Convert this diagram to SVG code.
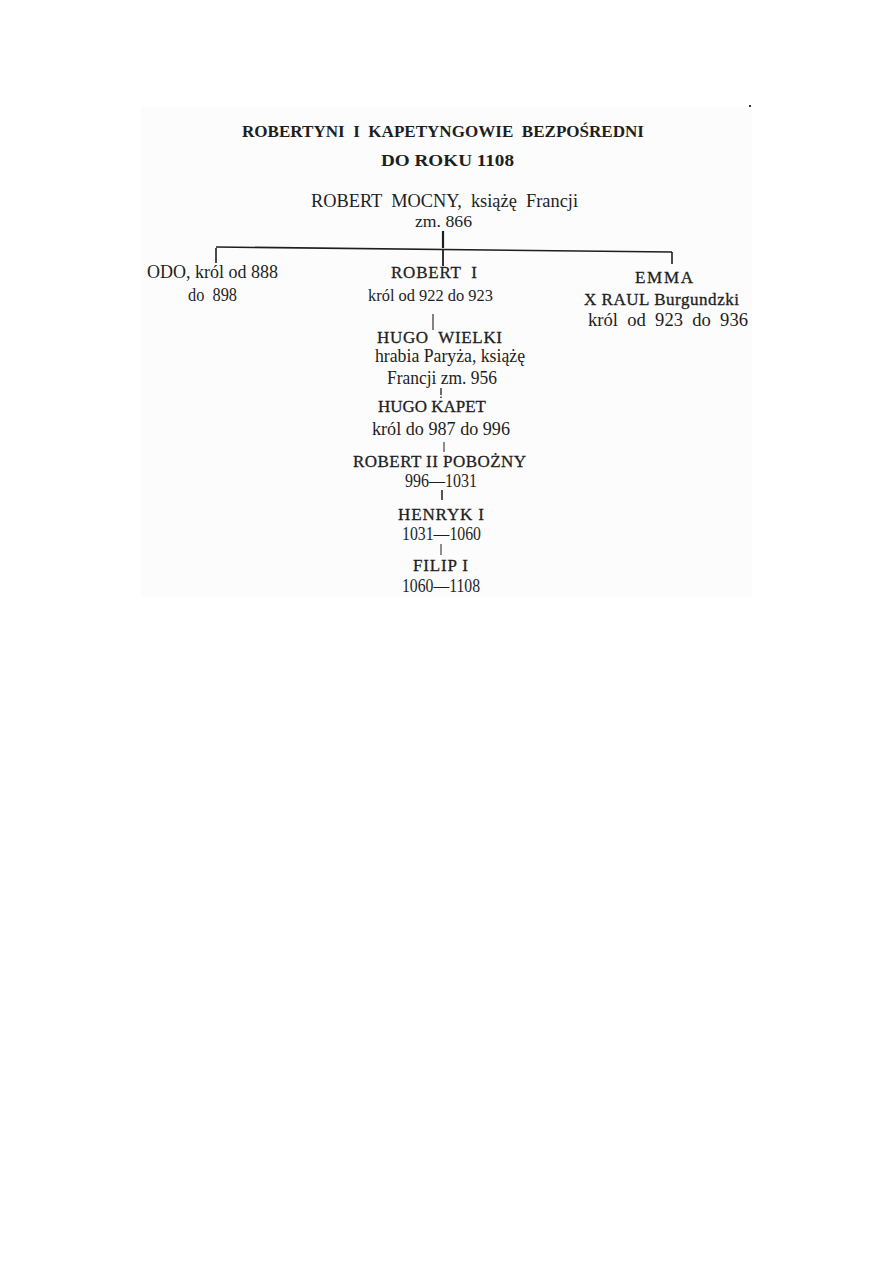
<svg xmlns="http://www.w3.org/2000/svg" width="893" height="1263" viewBox="0 0 893 1263">
<style>
text{font-family:"Liberation Serif","DejaVu Serif",serif;font-size:18px;fill:#1e1e1e}
.t{font-weight:bold;font-size:17px}
.n{stroke:#1e1e1e;stroke-width:0.3;font-size:17px}
.s{font-size:17px}
.c line{stroke:#1e1e1e;stroke-linecap:butt}
</style>
<rect width="893" height="1263" fill="#ffffff"/>
<rect x="141" y="106" width="611" height="491" fill="#fcfcfc"/>
<rect x="749" y="105" width="2" height="2" fill="#333"/>
<g id="title">
<text class="t" x="242" y="137" textLength="402" lengthAdjust="spacingAndGlyphs" xml:space="preserve">ROBERTYNI  I  KAPETYNGOWIE  BEZPOŚREDNI</text>
<text class="t" x="381" y="166" textLength="133" lengthAdjust="spacingAndGlyphs">DO ROKU 1108</text>
</g>
<g class="c" id="connectors">
<line x1="443" y1="231" x2="443" y2="248" stroke-width="2.2"/>
<line x1="216" y1="247" x2="672" y2="252" stroke-width="1.6"/>
<line x1="216" y1="248" x2="216" y2="263" stroke-width="1.6"/>
<line x1="443" y1="250" x2="443" y2="266" stroke-width="1.8"/>
<line x1="672" y1="252" x2="672" y2="264" stroke-width="1.6"/>
<line x1="433" y1="314" x2="433" y2="330" stroke-width="1.1"/>
<line x1="441" y1="388" x2="441" y2="395" stroke-width="1.3"/>
<line x1="441" y1="396.5" x2="441" y2="398" stroke-width="1.3"/>
<line x1="444" y1="442" x2="444" y2="452" stroke-width="1"/>
<line x1="442" y1="490" x2="442" y2="500" stroke-width="1.5"/>
<line x1="441" y1="544" x2="441" y2="555" stroke-width="1"/>
</g>
<g id="robert-mocny">
<text x="311" y="207" textLength="267" lengthAdjust="spacingAndGlyphs" xml:space="preserve">ROBERT  MOCNY,  książę  Francji</text>
<text class="s" x="415" y="227" textLength="57" lengthAdjust="spacingAndGlyphs">zm. 866</text>
</g>
<g id="odo">
<text x="147" y="278" textLength="131" lengthAdjust="spacingAndGlyphs">ODO, król od 888</text>
<text x="188" y="301" textLength="49" lengthAdjust="spacingAndGlyphs" xml:space="preserve">do  898</text>
</g>
<g id="robert-i">
<text class="n" x="391" y="278" textLength="86" lengthAdjust="spacing" xml:space="preserve">ROBERT  I</text>
<text class="s" x="368" y="301" textLength="125" lengthAdjust="spacingAndGlyphs">król od 922 do 923</text>
</g>
<g id="emma">
<text class="n" x="635" y="283" textLength="58" lengthAdjust="spacing">EMMA</text>
<text class="n" x="584" y="305" textLength="155" lengthAdjust="spacing">X RAUL Burgundzki</text>
<text x="588" y="326" textLength="160" lengthAdjust="spacingAndGlyphs" xml:space="preserve">król  od  923  do  936</text>
</g>
<g id="hugo-wielki">
<text class="n" x="377" y="343" textLength="125" lengthAdjust="spacing" xml:space="preserve">HUGO  WIELKI</text>
<text x="375" y="362" textLength="150" lengthAdjust="spacingAndGlyphs">hrabia Paryża, książę</text>
<text x="387" y="384" textLength="110" lengthAdjust="spacingAndGlyphs">Francji zm. 956</text>
</g>
<g id="hugo-kapet">
<text class="n" x="378" y="412" textLength="108" lengthAdjust="spacingAndGlyphs">HUGO KAPET</text>
<text x="372" y="435" textLength="138" lengthAdjust="spacingAndGlyphs">król do 987 do 996</text>
</g>
<g id="robert-ii">
<text class="n" x="353" y="467" textLength="173" lengthAdjust="spacing">ROBERT II POBOŻNY</text>
<text x="405" y="487" textLength="72" lengthAdjust="spacingAndGlyphs">996—1031</text>
</g>
<g id="henryk-i">
<text class="n" x="398" y="520" textLength="86" lengthAdjust="spacing">HENRYK I</text>
<text x="402" y="540" textLength="79" lengthAdjust="spacingAndGlyphs">1031—1060</text>
</g>
<g id="filip-i">
<text class="n" x="413" y="571" textLength="55" lengthAdjust="spacing">FILIP I</text>
<text x="402" y="592" textLength="78" lengthAdjust="spacingAndGlyphs">1060—1108</text>
</g>
</svg>
